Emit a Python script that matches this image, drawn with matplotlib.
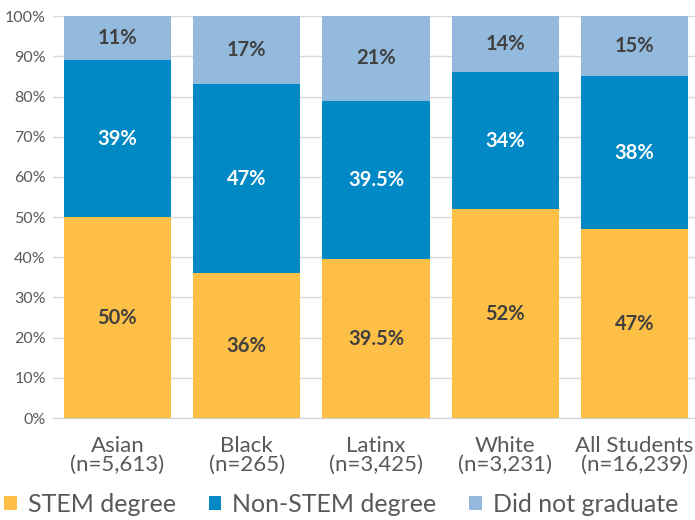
import numpy as np
import matplotlib.pyplot as plt

plt.rcParams['font.family'] = ['Lato', 'DejaVu Sans']

groups = ['Asian\n(n=5,613)', 'Black\n(n=265)', 'Latinx\n(n=3,425)',
          'White\n(n=3,231)', 'All Students\n(n=16,239)']
stem = [50, 36, 39.5, 52, 47]
non_stem = [39, 47, 39.5, 34, 38]
no_grad = [11, 17, 21, 14, 15]

stem_lbl = ['50%', '36%', '39.5%', '52%', '47%']
non_lbl = ['39%', '47%', '39.5%', '34%', '38%']
nog_lbl = ['11%', '17%', '21%', '14%', '15%']

c_stem = '#FDBF45'
c_non = '#0089C4'
c_nog = '#93B9DC'
txt_dark = '#404040'
gray = '#595959'

fig = plt.figure(figsize=(6.95, 5.2), dpi=100)
ax = fig.add_axes([0.076, 0.196, 0.93, 0.773])

x = np.arange(len(groups))
w = 0.83
stem = np.array(stem)
non_stem = np.array(non_stem)
no_grad = np.array(no_grad)

ax.bar(x, stem, w, color=c_stem, label='STEM degree', zorder=2)
ax.bar(x, non_stem, w, bottom=stem, color=c_non, label='Non-STEM degree', zorder=2)
ax.bar(x, no_grad, w, bottom=stem + non_stem, color=c_nog, label='Did not graduate', zorder=2)

for i in range(len(x)):
    ax.text(x[i], stem[i] / 2, stem_lbl[i], ha='center', va='center',
            fontsize=14.5, fontweight='bold', color=txt_dark, zorder=3)
    ax.text(x[i], stem[i] + non_stem[i] / 2, non_lbl[i], ha='center', va='center',
            fontsize=14.5, fontweight='bold', color='white', zorder=3)
    ax.text(x[i], stem[i] + non_stem[i] + no_grad[i] / 2, nog_lbl[i], ha='center',
            va='center', fontsize=14.5, fontweight='bold', color=txt_dark, zorder=3)

ax.set_xlim(-0.5, 4.5)
ax.set_ylim(0, 100)
ax.set_yticks(np.arange(0, 101, 10))
ax.set_yticklabels([f'{v}%' for v in range(0, 101, 10)], fontsize=11.5, color=gray)
ax.set_xticks(x)
ax.set_xticklabels(groups, fontsize=16, color=gray, linespacing=0.95)
ax.tick_params(length=0)
ax.tick_params(axis='x', pad=13)
ax.tick_params(axis='y', pad=5)
ax.yaxis.grid(True, color='#D9D9D9', lw=1, zorder=0)
for s in ['top', 'right', 'left']:
    ax.spines[s].set_visible(False)
ax.spines['bottom'].set_color('#D0D0D0')

fig.legend(loc='center left', bbox_to_anchor=(0.006, 0.03), ncol=3, frameon=False,
           fontsize=18, handlelength=0.5, handleheight=0.5, handletextpad=0.45,
           columnspacing=1.3, labelcolor=gray, borderpad=0, borderaxespad=0)

fig.savefig('out.png', dpi=100)
